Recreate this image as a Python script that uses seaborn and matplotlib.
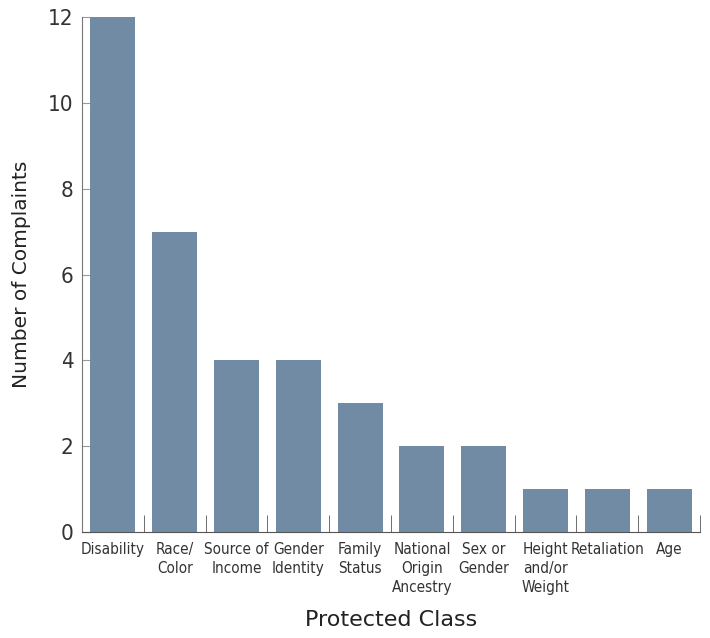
import numpy as np
import pandas as pd
import seaborn as sns
import matplotlib.pyplot as plt

classes = ["Disability", "Race/\nColor", "Source of\nIncome", "Gender\nIdentity",
           "Family\nStatus", "National\nOrigin\nAncestry", "Sex or\nGender",
           "Height\nand/or\nWeight", "Retaliation", "Age"]
complaints = [12, 7, 4, 4, 3, 2, 2, 1, 1, 1]

df = pd.DataFrame({"cls": classes, "n": complaints})

sns.set_style("white")
plt.rcParams['font.family'] = ['DejaVu Sans']

fig = plt.figure(figsize=(7.1, 6.38), dpi=100)
ax = fig.add_axes([0.1155, 0.166, 0.8705, 0.807])
sns.barplot(data=df, x="cls", y="n", color="#728ba5", saturation=1, width=0.73,
            linewidth=0, ax=ax)

ax.set_ylim(0, 12)
ax.set_xlim(-0.5, 9.5)
ax.set_yticks([0, 2, 4, 6, 8, 10, 12])
ax.tick_params(axis="y", direction="in", length=8, color="#999999", labelsize=16,
               labelcolor="#333333", pad=6, left=True)
ax.tick_params(axis="x", which="major", length=0, labelsize=11, labelcolor="#333333", pad=7)
ax.set_xticks(np.arange(-0.5, 10.5, 1), minor=True)
ax.tick_params(axis="x", which="minor", direction="in", length=12, color="#555555", bottom=True)
for s in ["top", "right"]:
    ax.spines[s].set_visible(False)
ax.spines["left"].set_color("#777777")
ax.spines["bottom"].set_color("#555555")
for lab in ax.get_xticklabels() + ax.get_yticklabels():
    lab.set_fontstretch("condensed")
for lab in ax.get_xticklabels():
    lab.set_multialignment("center")
    lab.set_linespacing(1.35)

ax.set_xlabel("Protected Class", fontsize=16, color="#222222")
ax.xaxis.set_label_coords(0.5, -0.152)
ax.set_ylabel("Number of Complaints", fontsize=14.5, color="#222222", labelpad=12)

fig.savefig("out.png", dpi=100)
